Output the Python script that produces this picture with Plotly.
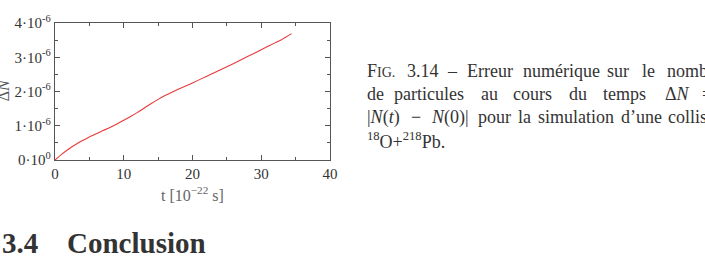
import plotly.graph_objects as go

# Data
t_vals = [0, 1, 2, 3, 4, 5, 6, 7, 8, 9, 10, 11, 12, 13, 14, 15, 16, 17, 18, 19, 20,
          22, 24, 26, 28, 30, 32, 33, 34.4]
dN_vals = [0, 0.17, 0.32, 0.45, 0.57, 0.67, 0.77, 0.86, 0.95, 1.05, 1.16, 1.27, 1.39,
           1.52, 1.65, 1.77, 1.88, 1.98, 2.07, 2.16, 2.25, 2.44, 2.63, 2.82, 3.02, 3.22,
           3.42, 3.52, 3.69]
dN_vals = [v * 1e-6 for v in dN_vals]
y_tick_vals = [0, 1e-6, 2e-6, 3e-6, 4e-6]
y_tick_text = ["0·10<sup>0</sup>", "1·10<sup>-6</sup>", "2·10<sup>-6</sup>",
               "3·10<sup>-6</sup>", "4·10<sup>-6</sup>"]
x_tick_vals = [0, 10, 20, 30, 40]

W, H = 705, 263
L, R, T, B = 55, 330, 22.5, 160

SERIF = "Liberation Serif"
AXC = "#555555"

fig = go.Figure()
fig.add_trace(go.Scatter(x=t_vals, y=dN_vals, mode="lines",
                         line=dict(color="#e8393a", width=1.1, shape="spline", smoothing=0.6),
                         showlegend=False))


def px2paper(px, py):
    return (px - L) / (R - L), (B - py) / (B - T)


annotations = []


def text(px, py, s, size=16, color="#333333", xanchor="left", angle=0, bold=False):
    x, y = px2paper(px, py)
    if bold:
        s = "<b>" + s + "</b>"
    annotations.append(dict(x=x, y=y, xref="paper", yref="paper", text=s, showarrow=False,
                            xanchor=xanchor, yanchor="middle", textangle=angle,
                            font=dict(family=SERIF, size=size, color=color)))


# Axis titles
text(192, 194, "t [10<sup>−22</sup> s]", size=16, color="#666666", xanchor="center")
text(3, 90, "Δ<i>N</i>", size=16, color="#555555", xanchor="center", angle=-90)

# Caption (word by word to mimic justified text)
cap = "#333333"
line1 = [(365, "F<span style='font-size:14px'>IG.</span>"), (405, "3.14"), (445, "–"),
         (465, "Erreur"), (521, "numérique"), (605, "sur"), (640, "le"), (665, "nombre")]
line2 = [(365, "de"), (392, "particules"), (479, "au"), (511, "cours"), (567, "du"),
         (601, "temps"), (663, "Δ<i>N</i>"), (700, "=")]
line3 = [(365, "|<i>N</i>(<i>t</i>)"), (409, "−"), (429, "<i>N</i>(0)|"), (476, "pour"),
         (516, "la"), (536, "simulation"), (619, "d’une"), (666, "collision")]
line4 = [(365, "<sup>18</sup>O+<sup>218</sup>Pb.")]
for ypos, line in zip([71, 94, 117, 140], [line1, line2, line3, line4]):
    for xpos, w in line:
        text(xpos, ypos, w, size=18, color=cap)

# Section heading
text(0, 243, "3.4", size=29, color="#333333", bold=True)
text(65, 243, "Conclusion", size=29, color="#333333", bold=True)

axis_common = dict(showline=True, linecolor=AXC, linewidth=1.3, mirror="ticks",
                   ticks="inside", tickcolor=AXC, ticklen=5, tickwidth=1,
                   showgrid=False, zeroline=False,
                   tickfont=dict(family=SERIF, size=15, color="#333333"))

fig.update_layout(
    width=W, height=H,
    margin=dict(l=L, r=W - R, t=T, b=H - B, pad=0),
    paper_bgcolor="white", plot_bgcolor="white",
    xaxis=dict(range=[0, 40], tickvals=x_tick_vals,
               minor=dict(ticks="inside", dtick=5, ticklen=3, tickcolor=AXC, showgrid=False),
               **axis_common),
    yaxis=dict(range=[0, 4e-6], tickvals=y_tick_vals, ticktext=y_tick_text,
               minor=dict(ticks="inside", dtick=0.5e-6, ticklen=3, tickcolor=AXC, showgrid=False),
               **axis_common),
    annotations=annotations,
)

fig.write_html("out.html")
